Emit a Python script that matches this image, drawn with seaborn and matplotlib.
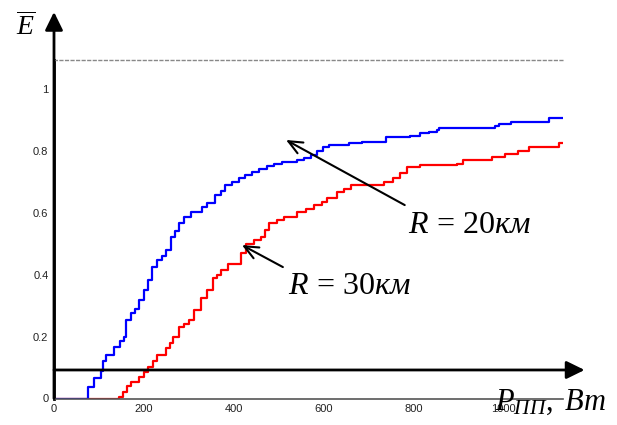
import pandas as pd
import matplotlib
matplotlib.use("Agg")
import matplotlib.pyplot as plt
import seaborn as sns

# Step curves: power (W) vs efficiency
p_20km = [0, 67, 75, 90, 104, 110, 116, 134, 146, 156, 160, 171, 180, 189, 200,
          208, 219, 230, 240, 249, 260, 270, 278, 290, 304, 329, 341, 359, 372,
          381, 395, 411, 425, 440, 456, 474, 490, 507, 540, 555, 571, 586, 598,
          611, 656, 684, 738, 792, 815, 835, 852, 856, 980, 990, 1016, 1101, 1132]
e_20km = [0, 0, 0.038, 0.065, 0.09, 0.12, 0.14, 0.167, 0.185, 0.2, 0.253, 0.275,
          0.29, 0.318, 0.35, 0.382, 0.425, 0.447, 0.46, 0.479, 0.522, 0.54, 0.565,
          0.585, 0.603, 0.617, 0.63, 0.655, 0.67, 0.69, 0.70, 0.71, 0.72, 0.73,
          0.74, 0.75, 0.757, 0.763, 0.77, 0.777, 0.786, 0.80, 0.81, 0.818, 0.823,
          0.827, 0.842, 0.847, 0.855, 0.86, 0.866, 0.874, 0.88, 0.886, 0.893,
          0.905, 0.905]

p_30km = [0, 141, 145, 153, 162, 171, 190, 200, 208, 220, 230, 249, 257, 264, 279,
          290, 301, 312, 327, 341, 353, 362, 371, 386, 416, 427, 445, 460, 470,
          479, 495, 512, 541, 560, 579, 595, 608, 630, 645, 660, 733, 755, 770,
          785, 815, 896, 910, 974, 1004, 1033, 1056, 1122, 1132]
e_30km = [0, 0, 0.006, 0.022, 0.04, 0.054, 0.07, 0.085, 0.103, 0.12, 0.14, 0.162,
          0.18, 0.2, 0.232, 0.24, 0.253, 0.285, 0.323, 0.35, 0.388, 0.40, 0.415,
          0.434, 0.468, 0.50, 0.51, 0.522, 0.545, 0.565, 0.575, 0.586, 0.603,
          0.612, 0.624, 0.635, 0.646, 0.667, 0.677, 0.688, 0.70, 0.71, 0.726,
          0.748, 0.753, 0.758, 0.769, 0.78, 0.79, 0.80, 0.81, 0.823, 0.823]

x_ticks = [0, 200, 400, 600, 800, 1000]
x_tick_labels = ["0", "200", "400", "600", "800", "1000"]
y_ticks = [0, 0.2, 0.4, 0.6, 0.8, 1]
y_tick_labels = ["0", "0.2", "0.4", "0.6", "0.8", "1"]

df = pd.concat([
    pd.DataFrame({"P": p_30km, "E": e_30km, "R": "30"}),
    pd.DataFrame({"P": p_20km, "E": e_20km, "R": "20"}),
])

sns.set_style("white")
plt.rcParams["mathtext.fontset"] = "custom"
plt.rcParams["mathtext.rm"] = "Liberation Serif"
plt.rcParams["mathtext.it"] = "Liberation Serif:italic"
plt.rcParams["font.family"] = ["Liberation Sans", "DejaVu Sans"]
plt.rcParams["text.color"] = "black"

fig = plt.figure(figsize=(6.17, 4.25), dpi=100)
ax = fig.add_axes([54 / 617, 1 - 398.5 / 425, (563 - 54) / 617, (398.5 - 60) / 425])

sns.lineplot(data=df, x="P", y="E", hue="R", hue_order=["30", "20"],
             palette={"30": "#ff0000", "20": "#0000ff"}, estimator=None,
             drawstyle="steps-post", linewidth=1.6, legend=False, ax=ax)

ax.set_xlim(0, 1132)
ax.set_ylim(0, 1.092)
ax.set_xticks(x_ticks, x_tick_labels)
ax.set_yticks(y_ticks, y_tick_labels)
ax.tick_params(direction="in", length=7, width=1, color="#333333",
               labelsize=8, labelcolor="#222222", pad=4)
ax.set_xlabel("")
ax.set_ylabel("")

ax.spines["right"].set_visible(False)
ax.spines["top"].set_color("#888888")
ax.spines["top"].set_linestyle((0, (2, 2)))
ax.spines["top"].set_linewidth(1)
ax.spines["bottom"].set_color("#555555")
ax.spines["bottom"].set_linewidth(1.2)
ax.spines["left"].set_color("black")
ax.spines["left"].set_linewidth(2)

# axis arrows
head = dict(arrowstyle="-|>,head_length=0.55,head_width=0.27", lw=2,
            color="black", mutation_scale=20, shrinkA=0, shrinkB=0)
ax.annotate("", xy=(0, 1.247), xytext=(0, 0), arrowprops=head, annotation_clip=False)
ax.annotate("", xy=(1180, 0.092), xytext=(0, 0.092), arrowprops=head, annotation_clip=False)

# curve labels
open_head = dict(arrowstyle="->,head_length=0.5,head_width=0.22", lw=1.5,
                 color="black", mutation_scale=20, shrinkA=0, shrinkB=0)
ax.annotate("", xy=(516, 0.834), xytext=(780, 0.624), arrowprops=open_head)
ax.annotate("", xy=(418, 0.495), xytext=(509, 0.424), arrowprops=open_head)
ax.text(924, 0.534, r"$R\,=\,20\mathit{км}$", fontsize=23, ha="center", va="baseline")
ax.text(658, 0.337, r"$R\,=\,30\mathit{км}$", fontsize=23, ha="center", va="baseline")

fig.text(26 / 617, 1 - 27 / 425, r"$\overline{E}$", fontsize=20, ha="center", va="center")
fig.text(495 / 617, 1 - 410 / 425, r"$P_{\mathit{ПП}},\ \mathit{Вт}$", fontsize=22,
         ha="left", va="baseline")

fig.savefig("out.png", dpi=100)
